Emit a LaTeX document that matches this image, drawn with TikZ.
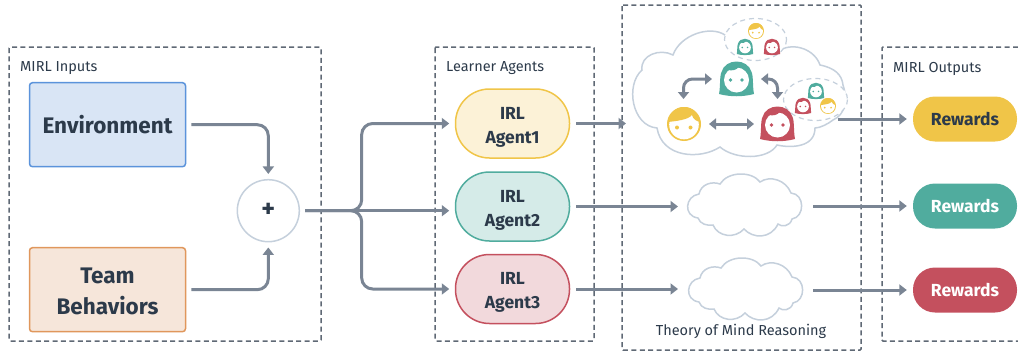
\documentclass[tikz,border=0pt]{standalone}
\usepackage{fontspec}
\setmainfont{Fira Sans}
\usetikzlibrary{positioning,arrows.meta}
\definecolor{inkdark}{HTML}{2C3A4A}
\definecolor{linegray}{HTML}{7A8594}
\definecolor{dashgray}{HTML}{5F6975}
\definecolor{cloudline}{HTML}{C5D0DC}
\definecolor{cyellow}{HTML}{F0C548}
\definecolor{cgreen}{HTML}{50AC9E}
\definecolor{cred}{HTML}{C4505E}
\definecolor{envline}{HTML}{5B93DB}
\definecolor{envfill}{HTML}{D9E5F5}
\definecolor{teamline}{HTML}{E0975C}
\definecolor{teamfill}{HTML}{F6E6DA}
\tikzset{
  x=1pt,y=-1pt,
  groupbox/.style={draw=dashgray,line width=1.5pt,rounded corners=1pt,dash pattern=on 5pt off 3.4pt},
  grouptitle/.style={text=inkdark,font=\fontsize{14.5}{17}\selectfont},
  inputbox/.style={draw,line width=1.5pt,rounded corners=3pt,minimum width=156pt,minimum height=84pt,align=center,text=inkdark,font=\fontsize{22.5}{31}\selectfont\bfseries},
  agentbox/.style={draw,line width=1.5pt,rounded corners=34pt,minimum width=114pt,minimum height=69pt,align=center,text=inkdark,font=\fontsize{17.5}{24}\selectfont\bfseries,text height=43pt},
  rewardbox/.style={rounded corners=22pt,minimum width=104pt,minimum height=45pt,font=\fontsize{17.5}{20}\selectfont\bfseries},
  flow/.style={draw=linegray,line width=3pt,rounded corners=11pt,-{Triangle[length=7.5pt,width=11pt]}},
  bothflow/.style={draw=linegray,line width=3pt,rounded corners=9pt,{Triangle[length=7pt,width=11pt]}-{Triangle[length=7pt,width=11pt]}},
  tomcloud/.style={draw=cloudline,fill=white,line width=1.5pt},
  minigroup/.style={draw=cloudline,fill=white,line width=1.2pt,dash pattern=on 5pt off 4pt},
}
%% faces: position, scale (and colour of the hair)
\newcommand{\boyhead}[3]{
  \begin{scope}[shift={(#1,#2)},scale=#3]
    \fill[cyellow] (0,0) circle (17);
    \fill[white] (0,0.5) circle (14.8);
    \fill[cyellow] (-16,-2) .. controls (-8,-3) and (4,-4) .. (8,-9) .. controls (9,-5) and (12,-3) .. (16,-2) .. controls (14,-12) and (8,-17) .. (0,-17) .. controls (-8,-17) and (-14,-12) .. (-16,-2) -- cycle;
    \fill[cyellow] (-7,3.5) circle (2) (6.5,3.5) circle (2);
  \end{scope}
}
\newcommand{\girlhead}[4]{
  \begin{scope}[shift={(#1,#2)},scale=#3]
    \fill[#4] (-17.5,15) .. controls (-16,8) and (-17,-3) .. (-15,-7) .. controls (-11,-21) and (11,-21) .. (15,-7) .. controls (17,-3) and (16,8) .. (17.5,15) .. controls (6,18) and (-6,18) .. (-17.5,15) -- cycle;
    \fill[white] (0,1) circle (12.5);
    \fill[#4] (-9,-9) .. controls (-4,-8) and (0,-9) .. (2,-12) -- (0,-14) -- cycle;
    \fill[#4] (-6,1) circle (1.8) (5.5,1) circle (1.8);
  \end{scope}
}
\newcommand{\smallcloud}[2]{
  \draw[tomcloud,shift={(#1,#2)}] (-46,-11) .. controls (-44,-21) and (-33,-24) .. (-25,-21)
    .. controls (-17,-34) and (7,-34) .. (15,-23)
    .. controls (25,-30) and (41,-25) .. (46,-12)
    .. controls (60,-11) and (60,12) .. (47,14)
    .. controls (45,22) and (36,22) .. (33,19)
    .. controls (26,34) and (8,34) .. (-1,24)
    .. controls (-10,34) and (-27,32) .. (-32,20)
    .. controls (-38,21) and (-45,19) .. (-47,13)
    .. controls (-62,11) and (-60,-9) .. (-46,-11) -- cycle;
}
\begin{document}
\begin{tikzpicture}
  \useasboundingbox (0,0) rectangle (1018,351);
  %% group frames
  \draw[groupbox] (9,47) rectangle (321,341);
  \draw[groupbox] (435,47) rectangle (594,341);
  \draw[groupbox] (622,5) rectangle (861,350);
  \draw[groupbox] (1018,47) -- (882,47) -- (882,341) -- (1018,341);
  \node[grouptitle,anchor=west,inner sep=0pt] (inputsTitle) at (20,68.5) {MIRL Inputs};
  \node[grouptitle,anchor=west,inner sep=0pt] (learnersTitle) at (446,68.5) {Learner Agents};
  \node[grouptitle,anchor=west,inner sep=0pt] (outputsTitle) at (893,68.5) {MIRL Outputs};
  \node[grouptitle] (tomTitle) at (741,331) {Theory of Mind Reasoning};
  %% inputs
  \node[inputbox,draw=envline,fill=envfill] (env) at (107.5,124.7) {Environment};
  \node[inputbox,draw=teamline,fill=teamfill,text height=50pt] (team) at (107.5,289.7) {Team\\Behaviors};
  \node[circle,draw=cloudline,line width=1.5pt,fill=white,minimum size=62pt,inner sep=0pt,text=inkdark,font=\fontsize{26}{28}\selectfont\bfseries] (plus) at (268.3,210.7) {+};
  %% agents
  \node[agentbox,draw=cyellow,fill=cyellow!22] (agent1) at (512.5,123.5) {IRL\\Agent1};
  \node[agentbox,draw=cgreen,fill=cgreen!24] (agent2) at (512.5,206.5) {IRL\\Agent2};
  \node[agentbox,draw=cred,fill=cred!22] (agent3) at (512.5,289) {IRL\\Agent3};
  %% rewards
  \node[rewardbox,fill=cyellow,text=inkdark] (reward1) at (965,119) {Rewards};
  \node[rewardbox,fill=cgreen,text=white] (reward2) at (965,206) {Rewards};
  \node[rewardbox,fill=cred,text=white] (reward3) at (965,290) {Rewards};
  %% clouds
  \draw[tomcloud] (657,128) .. controls (632,126) and (625,85) .. (642,70)
    .. controls (640,55) and (660,48) .. (673,55)
    .. controls (680,35) and (710,25) .. (725,35)
    .. controls (745,40) and (770,52) .. (780,50)
    .. controls (795,42) and (815,50) .. (820,65)
    .. controls (835,68) and (842,75) .. (843,85)
    .. controls (848,100) and (845,115) .. (833,120)
    .. controls (828,124) and (820,128) .. (815,128)
    .. controls (815,148) and (790,148) .. (777,145)
    .. controls (768,160) and (735,160) .. (720,147)
    .. controls (700,160) and (662,158) .. (657,128) -- cycle;
  \smallcloud{745}{205}
  \smallcloud{746}{289}
  \draw[minigroup] (755.5,39.5) ellipse (31 and 21);
  \draw[minigroup] (815.5,99.5) ellipse (32 and 21);
  %% faces
  \boyhead{684}{124}{1}{}
  \girlhead{736.5}{79}{1}{cgreen}
  \girlhead{777.5}{124}{1}{cred}
  \boyhead{756}{31}{0.47}{}
  \girlhead{745}{47}{0.47}{cgreen}
  \girlhead{772}{47}{0.47}{cred}
  \girlhead{816}{91}{0.47}{cgreen}
  \girlhead{803}{106}{0.47}{cred}
  \boyhead{828}{106}{0.47}{}
  %% reasoning arrows
  \coordinate (boyTop) at (683.5,99);
  \coordinate (boyRight) at (709,124);
  \coordinate (greenLeft) at (712,79);
  \coordinate (greenRight) at (761,79);
  \coordinate (redTop) at (777.5,99);
  \coordinate (redLeft) at (754,124);
  \draw[bothflow] (boyTop) |- (greenLeft);
  \draw[bothflow] (greenRight) -| (redTop);
  \draw[bothflow] (boyRight) -- (redLeft);
  %% connectors
  \coordinate (hub) at (361.7,210.7);
  \coordinate (cloud1in) at (626,123.5);
  \coordinate (cloud1out) at (838,119);
  \coordinate (cloud2in) at (678,206.5);
  \coordinate (cloud2out) at (813,206);
  \coordinate (cloud3in) at (678,289);
  \coordinate (cloud3out) at (813,290);
  \draw[flow,shorten <=5pt,shorten >=5pt] (env.east) -| (plus.north);
  \draw[flow,shorten <=5pt,shorten >=5pt] (team.east) -| (plus.south);
  \draw[flow,shorten <=5pt,shorten >=5.5pt] (plus.east) -- (hub) |- (agent1.west);
  \draw[flow,shorten <=5pt,shorten >=5.5pt] (plus.east) -- (plus.east -| agent2.west);
  \draw[flow,shorten <=5pt,shorten >=5.5pt] (plus.east) -- (hub) |- (agent3.west);
  \draw[flow,shorten <=6pt] (agent1.east) -- (cloud1in);
  \draw[flow,shorten <=6pt] (agent2.east) -- (cloud2in);
  \draw[flow,shorten <=6pt] (agent3.east) -- (cloud3in);
  \draw[flow,shorten >=6pt] (cloud1out) -- (reward1.west);
  \draw[flow,shorten >=6pt] (cloud2out) -- (reward2.west);
  \draw[flow,shorten >=6pt] (cloud3out) -- (reward3.west);
\end{tikzpicture}
\end{document}
